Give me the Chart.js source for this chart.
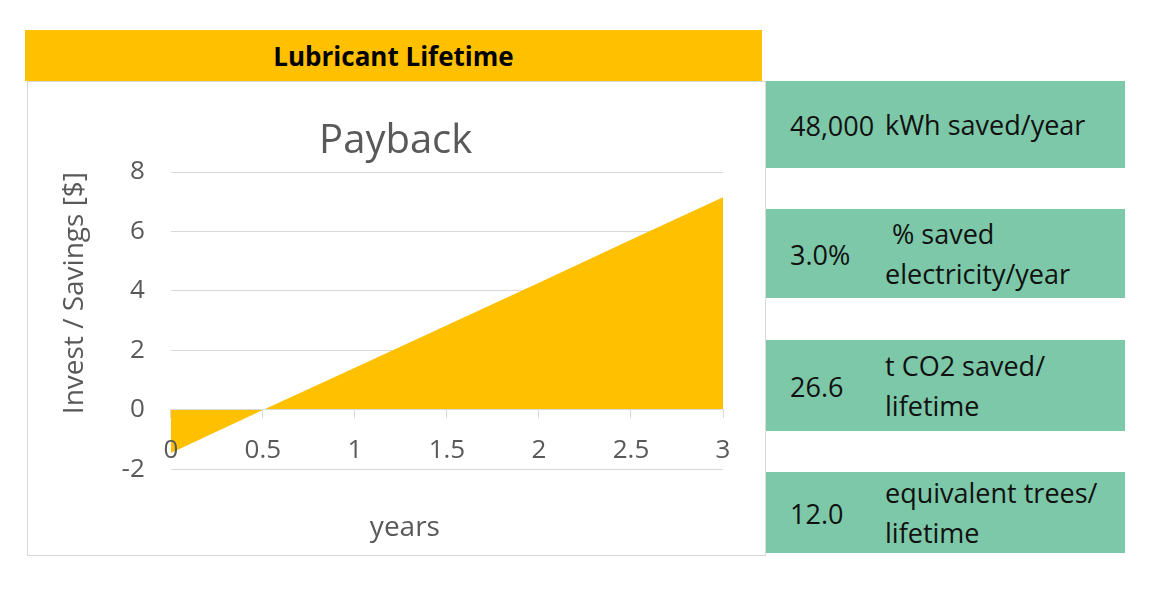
<!DOCTYPE html>
<html>
<head>
<meta charset="utf-8">
<script src="https://cdn.jsdelivr.net/npm/chart.js@4.4.1/dist/chart.umd.min.js"></script>
<style>
  body { margin: 0; background: #fff; font-family: "Open Sans", Lato, sans-serif; }
  #header {
    position: absolute; left: 25px; top: 30px; width: 737px; height: 51px;
    background: #ffc000; color: #000; font-weight: bold; font-size: 26px;
    display: flex; align-items: center; justify-content: center;
  }
  #chartBox {
    position: absolute; left: 27px; top: 81px; width: 737px; height: 473px;
    border: 1px solid #d9d9d9; background: #fff;
  }
  .kpi {
    position: absolute; left: 766px; width: 359px; background: #7cc8a8;
    color: #111; font-size: 27px;
  }
  .kpi .val { position: absolute; left: 24px; top: 50%; transform: translateY(-50%); }
  .kpi .lbl { position: absolute; left: 119px; top: 50%; transform: translateY(-50%); line-height: 40px; white-space: nowrap; }
</style>
</head>
<body>
<div id="header">Lubricant Lifetime</div>
<div id="chartBox"><canvas id="myChart"></canvas></div>
<div id="kpis"></div>
<script>
// Payback curve (years vs invest/savings)
var years = [0, 0.5, 1, 1.5, 2, 2.5, 3];
var payback = [-1.45, 0, 1.42, 2.85, 4.28, 5.72, 7.15];

// Side boxes
var kpiValues = ['48,000', '3.0%', '26.6', '12.0'];
var kpiLabels = ['kWh saved/year', '&nbsp;% saved<br>electricity/year', 't CO2 saved/<br>lifetime', 'equivalent trees/<br>lifetime'];
var kpiTops = [81, 209, 340, 472];
var kpiHeights = [87, 89, 91, 81];

var kpiHtml = '';
kpiValues.forEach(function (v, i) {
    kpiHtml += '<div class="kpi" style="top:' + kpiTops[i] + 'px;height:' + kpiHeights[i] + 'px">' +
        '<span class="val">' + v + '</span><span class="lbl">' + kpiLabels[i] + '</span></div>';
});
document.getElementById('kpis').innerHTML = kpiHtml;

var grey = '#595959';
var font = 'Open Sans';

var ctx = document.getElementById('myChart').getContext('2d');
var myChart = new Chart(ctx, {
    type: 'line',
    data: {
        datasets: [{
            data: years.map(function (x, i) { return { x: x, y: payback[i] }; }),
            backgroundColor: '#ffc000',
            borderWidth: 0,
            pointRadius: 0,
            fill: 'origin',
            tension: 0
        }]
    },
    options: {
        responsive: true,
        maintainAspectRatio: false,
        animation: false,
        layout: { padding: { left: 30, right: 42, top: 20, bottom: 10 } },
        plugins: {
            legend: { display: false },
            tooltip: { enabled: false },
            title: {
                display: true, text: ' Payback', color: grey,
                font: { family: font, size: 40, weight: 'normal' },
                padding: { top: 16, bottom: 6 }
            }
        },
        scales: {
            x: {
                type: 'linear', position: { y: 0 }, min: 0, max: 3,
                ticks: {
                    stepSize: 0.5, color: grey, font: { family: font, size: 26 }, padding: 17, maxRotation: 0, z: 1,
                    callback: function (v) { return String(v); }
                },
                grid: { drawOnChartArea: false, color: '#d9d9d9', tickLength: 8, z: 1 },
                border: { color: '#d9d9d9', z: 1 }
            },
            x2: {
                type: 'linear', position: 'bottom',
                ticks: { display: false },
                grid: { display: false },
                border: { display: false },
                title: {
                    display: true, text: 'years\u2003\u2003\u2003', color: grey,
                    font: { family: font, size: 28 }, padding: { top: 34, bottom: 0 }
                }
            },
            y: {
                min: -2, max: 8,
                ticks: { stepSize: 2, color: grey, font: { family: font, size: 26 }, padding: 26 },
                grid: { color: '#d9d9d9', drawTicks: false },
                border: { display: false },
                title: {
                    display: true, text: 'Invest / Savings [$]', align: 'end', color: grey,
                    font: { family: font, size: 28 }, padding: { top: 0, bottom: 4 }
                }
            }
        }
    }
});
</script>
</body>
</html>
